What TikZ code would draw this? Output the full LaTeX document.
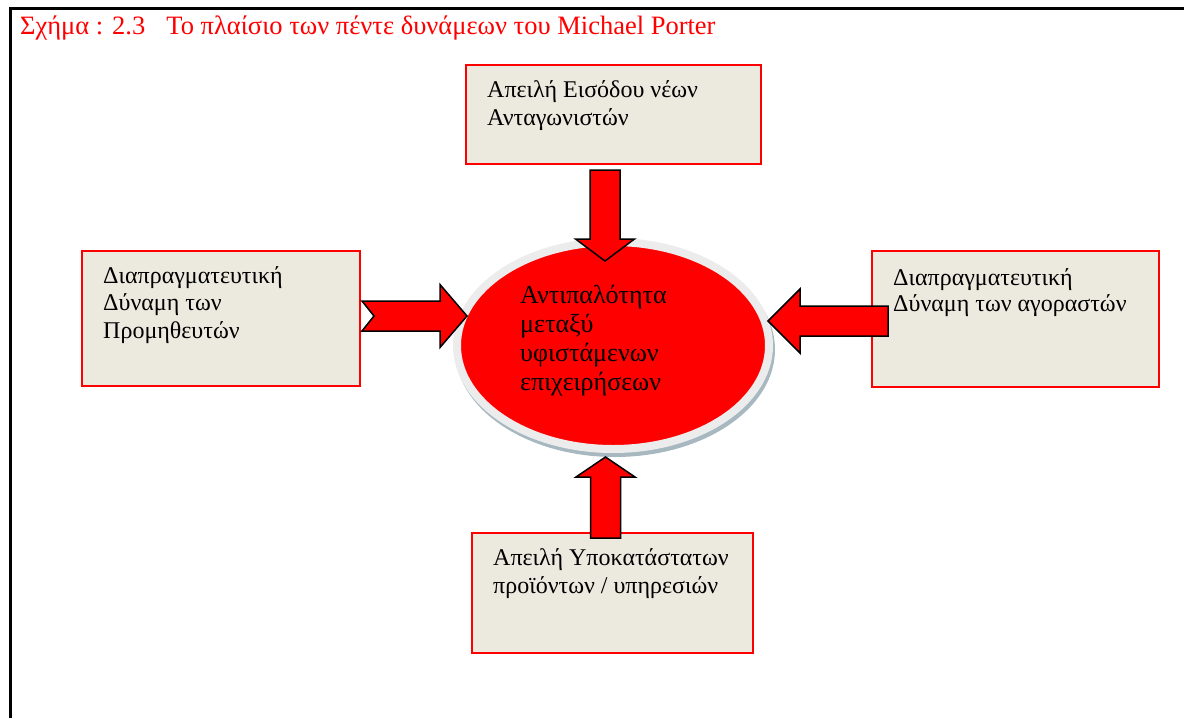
\documentclass[tikz,border=0pt]{standalone}
\usepackage{fontspec}
\setmainfont{Liberation Serif}
\usepackage{xcolor}
\definecolor{PorterRed}{HTML}{FF0000}
\definecolor{BoxBeige}{HTML}{ECE9DF}
\definecolor{RimGrey}{HTML}{ECECEC}
\definecolor{RimShadow}{HTML}{A7B8C0}
\usepackage{tikz}
\usetikzlibrary{calc,shapes.geometric}
% block arrow: tail, tip, head length, head half width, notch depth
\newcommand{\fatarrow}[5]{%
  \path let \p1=($(#2)-(#1)$) in
    \pgfextra{\pgfmathsetmacro\fatang{atan2(\y1,\x1)}\pgfmathsetmacro\fatlen{veclen(\x1,\y1)}%
      \global\let\fatang\fatang\global\let\fatlen\fatlen};
  \begin{scope}[shift={(#1)},rotate=\fatang,x=1pt,y=1pt]
    \draw[fat] (0,15) -- ({\fatlen-#3},15) -- ({\fatlen-#3},#4) -- (\fatlen,0)
      -- ({\fatlen-#3},-#4) -- ({\fatlen-#3},-15) -- (0,-15) -- (#5,0) -- cycle;
  \end{scope}}

\begin{document}
\begin{tikzpicture}[x=1pt,y=-1pt,
  forcebox/.style={draw=PorterRed,line width=2pt,fill=BoxBeige,rectangle,inner sep=0pt},
  txt/.style={anchor=base west,align=left,inner sep=0pt,font=\fontsize{24}{27.5}\selectfont},
  rivalrynode/.style={ellipse,fill=PorterRed,draw=RimGrey,line width=8pt,inner sep=0pt,
    minimum width=312pt,minimum height=207pt},
  fat/.style={fill=PorterRed,draw=black,line width=1.5pt,line join=miter}
]
  \useasboundingbox (0,0) rectangle (1184,718);
  \draw[line width=2.5pt] (10.5,718) |- (1184,8.7);
  \node[txt,text=PorterRed,font=\fontsize{26.5}{30}\selectfont] (title) at (20,34)
    {Σχήμα : 2.3\hspace{0.8em}Το πλαίσιο των πέντε δυνάμεων του Michael Porter};

  % the four forces
  \node[forcebox,minimum width=295pt,minimum height=99pt] (entry) at (613.5,114.5) {};
  \node[forcebox,minimum width=278pt,minimum height=135pt] (suppliers) at (221,318.5) {};
  \node[forcebox,minimum width=287pt,minimum height=136pt] (buyers) at (1015.5,319) {};
  \node[forcebox,minimum width=281pt,minimum height=120pt] (substitutes) at (612.5,593) {};

  % central rivalry
  \coordinate (rivc) at (613,345.5);
  \fill[RimShadow] ($(rivc)+(2,4)$) ellipse [x radius=160pt,y radius=107.5pt];
  \node[rivalrynode] (rivalry) at (rivc) {};

  \coordinate (entryout) at ($(entry.south)+(-8.5,5)$);
  \coordinate (suppout) at ($(suppliers.east)+(1,-2.5)$);
  \coordinate (buyout) at ($(buyers.west)+(17,2)$);
  \coordinate (subout) at ($(substitutes.north)+(-7,6)$);
  \fatarrow{entryout}{$(rivalry.center)+(-8,-84.5)$}{22}{29.5}{0}
  \fatarrow{suppout}{$(rivalry.center)+(-146,-29.5)$}{27}{31.5}{12}
  \fatarrow{buyout}{$(rivalry.center)+(155,-24.5)$}{32}{32}{0}
  \fatarrow{subout}{$(rivalry.center)+(-7.5,111.5)$}{20}{29.5}{0}

  % texts, placed at the baseline of their last line
  \node[txt] (entrytxt) at (487,125) {Απειλή Εισόδου νέων\\Ανταγωνιστών};
  \node[txt] (supptxt) at (103,338) {Διαπραγματευτική\\Δύναμη των\\Προμηθευτών};
  \node[txt,font=\fontsize{24}{26}\selectfont] (buytxt) at (893,311) {Διαπραγματευτική\\Δύναμη των αγοραστών};
  \node[txt,font=\fontsize{24}{28}\selectfont] (subtxt) at (493,593) {Απειλή Υποκατάστατων\\προϊόντων / υπηρεσιών};
  \node[txt,font=\fontsize{26}{29}\selectfont] (rivtxt) at (520,390) {Αντιπαλότητα\\μεταξύ\\υφιστάμενων\\επιχειρήσεων};
\end{tikzpicture}
\end{document}
